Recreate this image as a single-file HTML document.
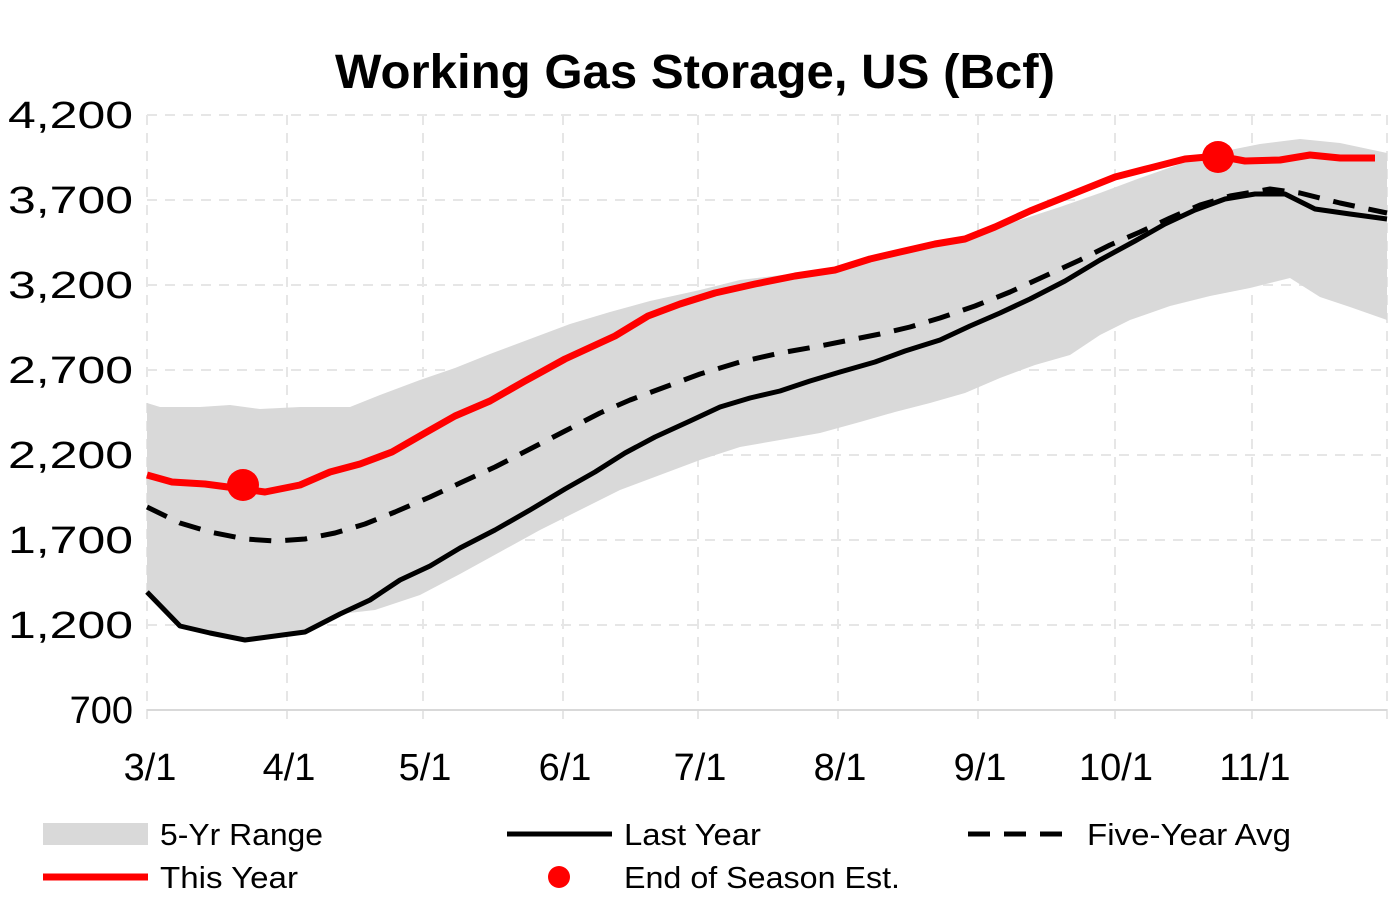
<!DOCTYPE html>
<html><head><meta charset="utf-8"><style>
body{margin:0;background:#fff;width:1389px;height:900px;overflow:hidden}
svg text{font-family:"Liberation Sans",sans-serif}
</style></head><body>
<svg width="1389" height="900" xmlns="http://www.w3.org/2000/svg">
<text x="335" y="88" font-size="48" font-weight="bold" textLength="720" lengthAdjust="spacingAndGlyphs">Working Gas Storage, US (Bcf)</text>
<g stroke="#e6e6e6" stroke-width="2" stroke-dasharray="10,8" fill="none">
<line x1="147" y1="115" x2="1387" y2="115"/><line x1="147" y1="200" x2="1387" y2="200"/><line x1="147" y1="285" x2="1387" y2="285"/><line x1="147" y1="370" x2="1387" y2="370"/><line x1="147" y1="455" x2="1387" y2="455"/><line x1="147" y1="540" x2="1387" y2="540"/><line x1="147" y1="625" x2="1387" y2="625"/>
<line x1="147" y1="115" x2="147" y2="720"/><line x1="287" y1="115" x2="287" y2="720"/><line x1="423" y1="115" x2="423" y2="720"/><line x1="563" y1="115" x2="563" y2="720"/><line x1="698" y1="115" x2="698" y2="720"/><line x1="838" y1="115" x2="838" y2="720"/><line x1="978" y1="115" x2="978" y2="720"/><line x1="1115" y1="115" x2="1115" y2="720"/><line x1="1252" y1="115" x2="1252" y2="720"/><line x1="1387" y1="115" x2="1387" y2="720"/>
</g>
<polygon fill="#d9d9d9" points="147,403 160,407 200,407 230,405 260,409 300,407 350,407 380,395 420,380 455,368 490,354 530,339 570,324 610,312 650,301 700,290 740,280 790,274 840,266 890,256 940,244 980,233 1020,220 1060,207 1100,193 1140,178 1180,164 1220,152 1260,144 1300,139 1340,143 1387,153 1387,320 1350,307 1320,297 1290,278 1250,288 1210,296 1170,306 1130,320 1100,335 1070,355 1035,365 1000,378 965,393 930,403 895,412 860,422 820,433 780,440 740,447 700,460 660,475 620,490 580,510 540,530 500,552 460,574 420,595 375,610 340,614 305,632 275,636 245,640 210,633 180,626 147,592"/>
<line x1="147" y1="710" x2="1387" y2="710" stroke="#d9d9d9" stroke-width="2"/>
<polyline fill="none" stroke="#000" stroke-width="5" stroke-dasharray="22,14" stroke-linejoin="round" points="147,507 180,523 210,532 245,539 275,541 305,539 335,533 365,524 395,512 430,497 460,483 495,467 530,449 565,431 600,413 630,400 665,387 700,374 740,362 780,353 820,346 850,340 880,334 910,327 940,318 975,306 1010,292 1045,276 1080,260 1110,245 1140,232 1170,218 1200,205 1230,196 1270,189 1300,193 1340,203 1387,213"/>
<polyline fill="none" stroke="#000" stroke-width="5" stroke-linejoin="round" points="147,592 180,626 210,633 245,640 275,636 305,632 340,614 370,600 400,580 430,566 460,548 495,530 530,510 565,489 595,472 625,453 655,437 690,421 720,407 750,398 780,391 810,381 840,372 875,362 905,351 940,340 970,326 1000,313 1030,299 1065,281 1100,260 1135,241 1165,224 1195,210 1225,199 1255,194 1285,194 1315,209 1350,214 1387,219"/>
<polyline fill="none" stroke="#ff0000" stroke-width="7" stroke-linejoin="round" points="147,475 172,482 205,484 243,489 265,492 300,485 330,472 360,464 392,452 425,433 455,416 490,401 525,381 565,359 615,336 648,316 680,304 715,293 755,284 795,276 835,270 870,259 900,252 935,244 965,239 995,227 1030,211 1070,195 1115,177 1150,168 1185,159 1218,156 1245,161 1280,160 1310,155 1340,158 1375,158"/>
<circle cx="243" cy="485" r="16" fill="#ff0000"/><circle cx="1218" cy="157" r="16" fill="#ff0000"/>
<g font-size="38">
<text x="8" y="128" textLength="125" lengthAdjust="spacingAndGlyphs">4,200</text><text x="8" y="213" textLength="125" lengthAdjust="spacingAndGlyphs">3,700</text><text x="8" y="298" textLength="125" lengthAdjust="spacingAndGlyphs">3,200</text><text x="8" y="383" textLength="125" lengthAdjust="spacingAndGlyphs">2,700</text><text x="8" y="468" textLength="125" lengthAdjust="spacingAndGlyphs">2,200</text><text x="8" y="553" textLength="125" lengthAdjust="spacingAndGlyphs">1,700</text><text x="8" y="638" textLength="125" lengthAdjust="spacingAndGlyphs">1,200</text><text x="133" y="723" text-anchor="end">700</text>
</g>
<g font-size="38" text-anchor="middle">
<text x="150" y="780">3/1</text><text x="289" y="780">4/1</text><text x="425" y="780">5/1</text><text x="565" y="780">6/1</text><text x="700" y="780">7/1</text><text x="840" y="780">8/1</text><text x="980" y="780">9/1</text><text x="1116" y="780">10/1</text><text x="1255" y="780">11/1</text>
</g>
<rect x="43" y="823" width="105" height="22" fill="#d9d9d9"/>
<line x1="507" y1="834" x2="612" y2="834" stroke="#000" stroke-width="5"/>
<line x1="968" y1="834" x2="1075" y2="834" stroke="#000" stroke-width="5" stroke-dasharray="22,14"/>
<line x1="43" y1="877" x2="148" y2="877" stroke="#ff0000" stroke-width="7"/>
<circle cx="559" cy="877" r="11" fill="#ff0000"/>
<g font-size="31">
<text x="160" y="845" textLength="163" lengthAdjust="spacingAndGlyphs">5-Yr Range</text><text x="624" y="845" textLength="137" lengthAdjust="spacingAndGlyphs">Last Year</text><text x="1087" y="845" textLength="204" lengthAdjust="spacingAndGlyphs">Five-Year Avg</text>
<text x="160" y="888" textLength="138" lengthAdjust="spacingAndGlyphs">This Year</text><text x="624" y="888" textLength="276" lengthAdjust="spacingAndGlyphs">End of Season Est.</text>
</g>
</svg>
</body></html>
